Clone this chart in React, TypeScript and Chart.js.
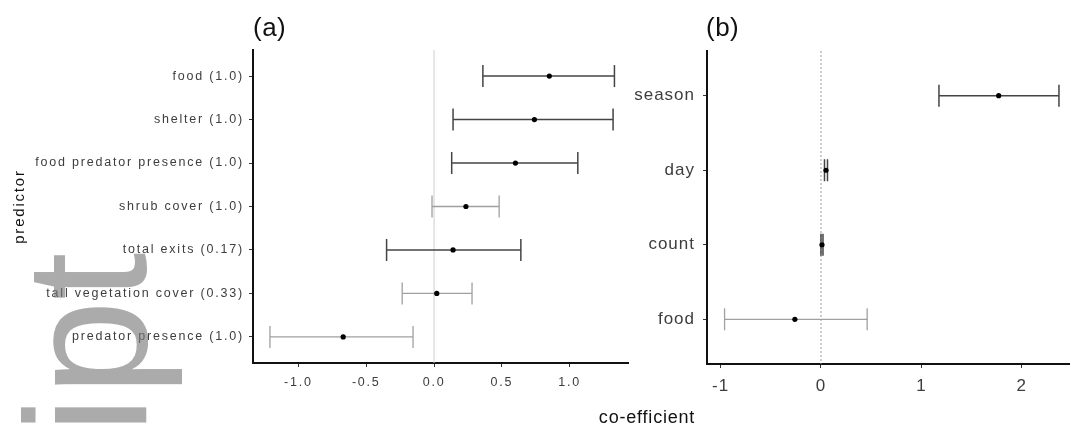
import React, { useEffect, useRef } from 'react';
import { Chart, registerables } from 'chart.js';

Chart.register(...registerables);

const FONT_FAMILY = 'Arial, "Liberation Sans", Helvetica, sans-serif';

// ---- Panel (a) data ----
const predictorsA = [
  'food (1.0)',
  'shelter (1.0)',
  'food predator presence (1.0)',
  'shrub cover (1.0)',
  'total exits (0.17)',
  'tall vegetation cover (0.33)',
  'predator presence (1.0)',
];
const estimatesA = [0.85, 0.74, 0.6, 0.235, 0.14, 0.02, -0.67];
const lowersA = [0.36, 0.14, 0.13, -0.015, -0.35, -0.235, -1.21];
const uppersA = [1.33, 1.32, 1.06, 0.48, 0.64, 0.28, -0.155];
const xTickValuesA = [-1, -0.5, 0, 0.5, 1];
const xTickLabelsA = ['-1.0', '-0.5', '0.0', '0.5', '1.0'];

// ---- Panel (b) data ----
const predictorsB = ['season', 'day', 'count', 'food'];
const estimatesB = [1.77, 0.05, 0.01, -0.26];
const lowersB = [1.175, 0.035, 0.0, -0.96];
const uppersB = [2.37, 0.065, 0.02, 0.46];
const xTickValuesB = [-1, 0, 1, 2];
const xTickLabelsB = ['-1', '0', '1', '2'];

// ---- styles (kept apart from the data) ----
const toneA = ['dark', 'dark', 'dark', 'light', 'dark', 'light', 'light'];
const toneB = ['dark', 'dark', 'dark', 'light'];
const TONES: Record<string, { color: string; width: number }> = {
  dark: { color: '#444444', width: 1.5 },
  light: { color: '#a0a0a0', width: 1.3 },
};

type PanelSpec = {
  labels: string[];
  est: number[];
  lo: number[];
  hi: number[];
  tones: string[];
  xTicks: number[];
  xLabels: string[];
  xMin: number;
  xMax: number;
  fontSize: number;
  letterSpacing: string;
  yWidth: number;
  padRight: number;
  padTop: number;
  padBottom: number;
  yPad: number;
  xPad: number;
  capRadius: number;
  zeroColor: string;
  zeroDash: number[];
  yTitle?: { text: string; size: number; padTop: number };
};

function makeConfig(p: PanelSpec): any {
  const n = p.labels.length;
  const pointsDs = {
    type: 'scatter',
    label: 'estimate',
    data: p.est.map((v, i) => ({ x: v, y: i + 1 })),
    pointStyle: 'circle',
    pointRadius: 2.6,
    pointBackgroundColor: '#000',
    pointBorderColor: '#000',
    pointBorderWidth: 0,
    showLine: false,
  };
  const barDs = p.labels.map((lab, i) => {
    const t = TONES[p.tones[i]];
    return {
      type: 'scatter',
      label: lab,
      data: [
        { x: p.lo[i], y: i + 1 },
        { x: p.hi[i], y: i + 1 },
      ],
      showLine: true,
      borderColor: t.color,
      borderWidth: t.width,
      pointStyle: 'line',
      rotation: 90,
      pointRadius: p.capRadius,
      pointHoverRadius: p.capRadius,
      pointBorderColor: t.color,
      pointBackgroundColor: t.color,
      pointBorderWidth: t.width,
    };
  });

  const ls = p.letterSpacing;
  const spacingPlugin = {
    id: 'letterSpacing',
    beforeUpdate(chart: any) {
      chart.ctx.letterSpacing = ls;
    },
    beforeDraw(chart: any) {
      chart.ctx.letterSpacing = ls;
    },
  };
  const zeroPlugin = {
    id: 'zeroLine',
    beforeDatasetsDraw(chart: any) {
      const { ctx, chartArea, scales } = chart;
      const x = scales.x.getPixelForValue(0);
      ctx.save();
      ctx.strokeStyle = p.zeroColor;
      ctx.lineWidth = 1;
      ctx.setLineDash(p.zeroDash);
      ctx.beginPath();
      ctx.moveTo(x, chartArea.top);
      ctx.lineTo(x, chartArea.bottom);
      ctx.stroke();
      ctx.restore();
    },
  };

  return {
    type: 'scatter',
    data: { datasets: [pointsDs, ...barDs] },
    plugins: [spacingPlugin, zeroPlugin],
    options: {
      animation: false,
      responsive: true,
      maintainAspectRatio: false,
      events: [],
      layout: {
        autoPadding: false,
        padding: { left: 0, right: p.padRight, top: p.padTop, bottom: p.padBottom },
      },
      plugins: {
        legend: { display: false },
        tooltip: { enabled: false },
        title: { display: false },
      },
      scales: {
        x: {
          type: 'linear',
          min: p.xMin,
          max: p.xMax,
          afterBuildTicks: (s: any) => {
            s.ticks = p.xTicks.map((v) => ({ value: v }));
          },
          afterFit: (s: any) => {
            s.height = 40;
          },
          ticks: {
            autoSkip: false,
            maxRotation: 0,
            padding: p.xPad,
            color: '#3d3d3d',
            font: { family: FONT_FAMILY, size: p.fontSize },
            callback: (_v: any, i: number) => p.xLabels[i],
          },
          grid: {
            display: true,
            drawOnChartArea: false,
            drawTicks: true,
            tickLength: 4,
            tickColor: '#333',
            tickWidth: 1,
          },
          border: { display: true, color: '#111', width: 2 },
        },
        y: {
          type: 'linear',
          min: 0.4,
          max: n + 0.6,
          reverse: true,
          afterBuildTicks: (s: any) => {
            s.ticks = p.labels.map((_l, i) => ({ value: i + 1 }));
          },
          afterFit: (s: any) => {
            s.width = p.yWidth;
          },
          ticks: {
            autoSkip: false,
            padding: p.yPad,
            color: '#3d3d3d',
            font: { family: FONT_FAMILY, size: p.fontSize },
            callback: (_v: any, i: number) => p.labels[i],
          },
          grid: {
            display: true,
            drawOnChartArea: false,
            drawTicks: true,
            tickLength: 4,
            tickColor: '#333',
            tickWidth: 1,
          },
          border: { display: true, color: '#111', width: 2 },
          title: p.yTitle
            ? {
                display: true,
                text: p.yTitle.text,
                color: '#111',
                font: { family: FONT_FAMILY, size: p.yTitle.size },
                padding: { top: p.yTitle.padTop, bottom: 0 },
              }
            : { display: false },
        },
      },
    },
  };
}

const specA: PanelSpec = {
  labels: predictorsA,
  est: estimatesA,
  lo: lowersA,
  hi: uppersA,
  tones: toneA,
  xTicks: xTickValuesA,
  xLabels: xTickLabelsA,
  xMin: -1.335,
  xMax: 1.43,
  fontSize: 12.5,
  letterSpacing: '1.8px',
  yWidth: 253,
  padRight: 12,
  padTop: 50,
  padBottom: 30,
  yPad: 5,
  xPad: 8,
  capRadius: 11,
  zeroColor: '#cfcfcf',
  zeroDash: [],
  yTitle: { text: 'predictor', size: 15, padTop: 11 },
};

const specB: PanelSpec = {
  labels: predictorsB,
  est: estimatesB,
  lo: lowersB,
  hi: uppersB,
  tones: toneB,
  xTicks: xTickValuesB,
  xLabels: xTickLabelsB,
  xMin: -1.135,
  xMax: 2.48,
  fontSize: 17,
  letterSpacing: '1px',
  yWidth: 107,
  padRight: 0,
  padTop: 51,
  padBottom: 29,
  yPad: 8,
  xPad: 8,
  capRadius: 11,
  zeroColor: '#9a9a9a',
  zeroDash: [2, 2],
};

export default function App() {
  const refA = useRef<HTMLCanvasElement | null>(null);
  const refB = useRef<HTMLCanvasElement | null>(null);

  useEffect(() => {
    const charts: Chart[] = [];
    if (refA.current) charts.push(new Chart(refA.current, makeConfig(specA)));
    if (refB.current) charts.push(new Chart(refB.current, makeConfig(specB)));
    return () => {
      charts.forEach((c) => c.destroy());
    };
  }, []);

  const textBase: React.CSSProperties = {
    position: 'absolute',
    fontFamily: FONT_FAMILY,
    lineHeight: 1,
    whiteSpace: 'nowrap',
    color: '#111',
  };

  return (
    <div
      style={{
        position: 'absolute',
        left: 0,
        top: 0,
        width: 1070,
        height: 433,
        overflow: 'hidden',
        background: '#fff',
      }}
    >
      <div style={{ position: 'absolute', left: 0, top: 0, width: 640, height: 433 }}>
        <canvas ref={refA} />
      </div>
      <div style={{ position: 'absolute', left: 600, top: 0, width: 470, height: 433 }}>
        <canvas ref={refB} />
      </div>
      <div style={{ ...textBase, left: 253, top: 14, fontSize: 26, letterSpacing: '0.5px' }}>(a)</div>
      <div style={{ ...textBase, left: 706, top: 14, fontSize: 26, letterSpacing: '0.5px' }}>(b)</div>
      <div
        style={{
          ...textBase,
          left: 647,
          top: 408,
          fontSize: 18,
          letterSpacing: '0.8px',
          transform: 'translateX(-50%)',
        }}
      >
        co-efficient
      </div>
      <div
        style={{
          ...textBase,
          left: 0,
          top: 433.5,
          fontSize: 172,
          color: 'rgba(120,120,120,0.62)',
          transform: 'rotate(-90deg)',
          transformOrigin: '0 0',
          pointerEvents: 'none',
          zIndex: 2,
        }}
      >
        ipt
      </div>
    </div>
  );
}
